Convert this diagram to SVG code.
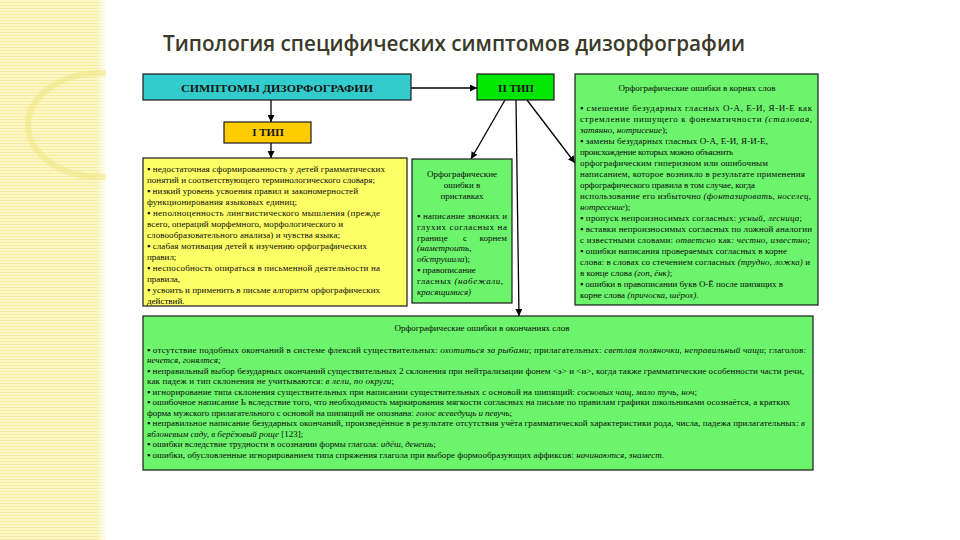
<svg xmlns="http://www.w3.org/2000/svg" width="960" height="540" viewBox="0 0 960 540">
<defs>
<style>
.t{font-family:"Liberation Serif","Times New Roman",serif;font-size:9px;fill:#0a0a0a}
.i{font-style:italic}
.h{font-family:"Liberation Serif","Times New Roman",serif;font-weight:bold;font-size:11px;text-anchor:middle;fill:#141414}
.hd{font-family:"Liberation Serif","Times New Roman",serif;font-size:9px;text-anchor:middle;fill:#0a0a0a}
.box{stroke:#1a1a1a;stroke-width:1.2}
.con{stroke:#000;stroke-width:1.3;fill:none}
.g{fill:#6CF56C}
</style>
<pattern id="stripes" width="8" height="3" patternUnits="userSpaceOnUse">
<rect width="8" height="3" fill="#FBF6C4"/>
<rect y="2" width="8" height="1" fill="#F4EC9E"/>
</pattern>
<linearGradient id="fade" x1="0" x2="1" y1="0" y2="0">
<stop offset="0" stop-color="#fff" stop-opacity="0"/>
<stop offset="1" stop-color="#fff" stop-opacity="1"/>
</linearGradient>
<clipPath id="stripClip"><rect x="0" y="0" width="106" height="540"/></clipPath>
<marker id="ah" viewBox="0 0 10 10" refX="10" refY="5" markerWidth="7" markerHeight="7" orient="auto" markerUnits="userSpaceOnUse">
<path d="M0,0 L10,5 L0,10 z" fill="#000"/>
</marker>
</defs>

<rect width="960" height="540" fill="#fff"/>
<g id="strip">
<rect x="0" y="0" width="106" height="540" fill="url(#stripes)"/>
<rect x="96" y="0" width="12" height="540" fill="url(#fade)"/>
<ellipse cx="100" cy="125" rx="72" ry="52" fill="none" stroke="#F1E782" stroke-width="6" opacity="0.55" clip-path="url(#stripClip)"/>
</g>

<text x="163" y="51" font-family="'Open Sans','Noto Sans',sans-serif" font-size="21" font-weight="600" fill="#3A3A28" textLength="582" lengthAdjust="spacingAndGlyphs">Типология специфических симптомов дизорфографии</text>

<g id="connectors">
<line class="con" x1="411" y1="88" x2="477" y2="88" marker-end="url(#ah)"/>
<line class="con" x1="271" y1="100" x2="271" y2="122" marker-end="url(#ah)"/>
<line class="con" x1="271" y1="143" x2="271" y2="158" marker-end="url(#ah)"/>
<line class="con" x1="505" y1="100" x2="471" y2="159" marker-end="url(#ah)"/>
<line class="con" x1="516" y1="100" x2="519" y2="316" marker-end="url(#ah)"/>
<line class="con" x1="527" y1="100" x2="575" y2="163" marker-end="url(#ah)"/>
</g>

<g id="symptoms">
<rect class="box" x="143" y="74" width="268" height="26" fill="#33CCCC"/>
<text class="h" x="277" y="92" textLength="192" lengthAdjust="spacingAndGlyphs">СИМПТОМЫ ДИЗОРФОГРАФИИ</text>
</g>

<g id="type2">
<rect class="box" x="477" y="74" width="77" height="26" fill="#00E600"/>
<text class="h" x="516" y="92">II ТИП</text>
</g>

<g id="type1">
<rect class="box" x="224" y="122" width="87" height="21" fill="#FFCC00"/>
<text class="h" x="268" y="136">I ТИП</text>
</g>

<g id="type1-list">
<rect class="box" x="143" y="158" width="264" height="148" fill="#FFFF66"/>
<text class="t" x="147" y="172" textLength="238" lengthAdjust="spacing">▪ недостаточная сформированность у детей грамматических</text>
<text class="t" x="147" y="183" textLength="228" lengthAdjust="spacing">понятий и соответствующего терминологического словаря;</text>
<text class="t" x="147" y="194" textLength="211" lengthAdjust="spacing">▪ низкий уровень усвоения правил и закономерностей</text>
<text class="t" x="147" y="205" textLength="150" lengthAdjust="spacing">функционирования языковых единиц;</text>
<text class="t" x="147" y="216" textLength="233" lengthAdjust="spacing">▪ неполноценность лингвистического мышления (прежде</text>
<text class="t" x="147" y="227" textLength="196" lengthAdjust="spacing">всего, операций морфемного, морфологического и</text>
<text class="t" x="147" y="238" textLength="193" lengthAdjust="spacing">словообразовательного анализа) и чувства языка;</text>
<text class="t" x="147" y="249" textLength="220" lengthAdjust="spacing">▪ слабая мотивация детей к изучению орфографических</text>
<text class="t" x="147" y="260">правил;</text>
<text class="t" x="147" y="271" textLength="233" lengthAdjust="spacing">▪ неспособность опираться в письменной деятельности на</text>
<text class="t" x="147" y="282">правила,</text>
<text class="t" x="147" y="293" textLength="233" lengthAdjust="spacing">▪ усвоить и применить в письме алгоритм орфографических</text>
<text class="t" x="147" y="304">действий.</text>
</g>

<g id="prefix-errors">
<rect class="box g" x="412" y="159" width="100" height="144"/>
<text class="hd" x="462" y="177">Орфографические</text>
<text class="hd" x="462" y="188">ошибки в</text>
<text class="hd" x="462" y="199">приставках</text>
<text class="t" x="417" y="219" textLength="90" lengthAdjust="spacing">▪ написание звонких и</text>
<text class="t" x="417" y="230" textLength="90" lengthAdjust="spacing">глухих согласных на</text>
<text class="t" x="417" y="241">границе</text>
<text class="t" x="463" y="241">с</text>
<text class="t" x="507" y="241" text-anchor="end">корнем</text>
<text class="t i" x="417" y="251">(наметроить,</text>
<text class="t i" x="417" y="262">обструшила<tspan font-style="normal">);</tspan></text>
<text class="t" x="417" y="273">▪ правописание</text>
<text class="t" x="417" y="284" textLength="86" lengthAdjust="spacing">гласных <tspan class="i">(набежали,</tspan></text>
<text class="t i" x="417" y="295">красящимися)</text>
</g>

<g id="root-errors">
<rect class="box g" x="575" y="74" width="243" height="231"/>
<text class="hd" x="697" y="91">Орфографические ошибки в корнях слов</text>
<text class="t" x="580" y="111" textLength="232" lengthAdjust="spacing">▪ смешение безударных гласных О-А, Е-И, Я-И-Е как</text>
<text class="t" x="580" y="122" textLength="232" lengthAdjust="spacing">стремление пишущего к фонематичности <tspan class="i">(сталовая,</tspan></text>
<text class="t" x="580" y="133"><tspan class="i">затянно, нотрисение</tspan>);</text>
<text class="t" x="580" y="144" textLength="188" lengthAdjust="spacing">▪ замены безударных гласных О-А, Е-И, Я-И-Е,</text>
<text class="t" x="580" y="155" textLength="153" lengthAdjust="spacing">происхождение которых можно объяснить</text>
<text class="t" x="580" y="166" textLength="188" lengthAdjust="spacing">орфографическим гиперизмом или ошибочным</text>
<text class="t" x="580" y="177" textLength="225" lengthAdjust="spacing">написанием, которое возникло в результате применения</text>
<text class="t" x="580" y="188" textLength="175" lengthAdjust="spacing">орфографического правила в том случае, когда</text>
<text class="t" x="580" y="199" textLength="231" lengthAdjust="spacing">использование его избыточно <tspan class="i">(фонтазировать, носелец,</tspan></text>
<text class="t" x="580" y="210"><tspan class="i">нотресение</tspan>);</text>
<text class="t" x="580" y="221" textLength="222" lengthAdjust="spacing">▪ пропуск непроизносимых согласных: <tspan class="i">усный, лесница</tspan>;</text>
<text class="t" x="580" y="232" textLength="232" lengthAdjust="spacing">▪ вставки непроизносимых согласных по ложной аналогии</text>
<text class="t" x="580" y="243" textLength="230" lengthAdjust="spacing">с известными словами: <tspan class="i">ответсно</tspan> как: <tspan class="i">честно, известно</tspan>;</text>
<text class="t" x="580" y="254" textLength="207" lengthAdjust="spacing">▪ ошибки написания проверяемых согласных в корне</text>
<text class="t" x="580" y="265" textLength="230" lengthAdjust="spacing">слова: в словах со стечением согласных <tspan class="i">(трудно, ложка)</tspan> и</text>
<text class="t" x="580" y="276">в конце слова <tspan class="i">(гоп, ёнк)</tspan>;</text>
<text class="t" x="580" y="287" textLength="203" lengthAdjust="spacing">▪ ошибки в правописании букв О-Ё после шипящих в</text>
<text class="t" x="580" y="298">корне слова <tspan class="i">(причоска, шёрох)</tspan>.</text>
</g>

<g id="ending-errors">
<rect class="box g" x="143" y="316" width="670" height="154" stroke-width="1.6"/>
<text class="hd" x="482" y="331">Орфографические ошибки в окончаниях слов</text>
<text class="t" x="147" y="353" textLength="659" lengthAdjust="spacing">▪ отсутствие подобных окончаний в системе флексий существительных: <tspan class="i">охотиться за рыбами</tspan>; прилагательных: <tspan class="i">светлая поляночки, неправильный чащи</tspan>; глаголов:</text>
<text class="t i" x="147" y="363">нечется, гонялтся<tspan font-style="normal">;</tspan></text>
<text class="t" x="147" y="374" textLength="657" lengthAdjust="spacing">▪ неправильный выбор безударных окончаний существительных 2 склонения при нейтрализации фонем &lt;э&gt; и &lt;и&gt;, когда также грамматические особенности части речи,</text>
<text class="t" x="147" y="384" textLength="247" lengthAdjust="spacing">как падеж и тип склонения не учитываются: <tspan class="i">в лели, по округи</tspan>;</text>
<text class="t" x="147" y="395" textLength="550" lengthAdjust="spacing">▪ игнорирование типа склонения существительных при написании существительных с основой на шипящий: <tspan class="i">сосновых чащ, мало тучь, ноч</tspan>;</text>
<text class="t" x="147" y="405" textLength="643" lengthAdjust="spacing">▪ ошибочное написание Ь вследствие того, что необходимость маркирования мягкости согласных на письме по правилам графики школьниками осознаётся, а кратких</text>
<text class="t" x="147" y="416" textLength="365" lengthAdjust="spacing">форма мужского прилагательного с основой на шипящий не опознана: <tspan class="i">голос всеведущь и певучь</tspan>;</text>
<text class="t" x="147" y="426" textLength="658" lengthAdjust="spacing">▪ неправильное написание безударных окончаний, произведённое в результате отсутствия учёта грамматической характеристики рода, числа, падежа прилагательных: <tspan class="i">в</tspan></text>
<text class="t" x="147" y="437"><tspan class="i">яблоневым саду, в берёзовый роще</tspan> [123];</text>
<text class="t" x="147" y="447">▪ ошибки вследствие трудности в осознании формы глагола: <tspan class="i">идёш, денешь</tspan>;</text>
<text class="t" x="147" y="458" textLength="517" lengthAdjust="spacing">▪ ошибки, обусловленные игнорированием типа спряжения глагола при выборе формообразующих аффиксов: <tspan class="i">начинаются, знамест</tspan>.</text>
</g>
</svg>
